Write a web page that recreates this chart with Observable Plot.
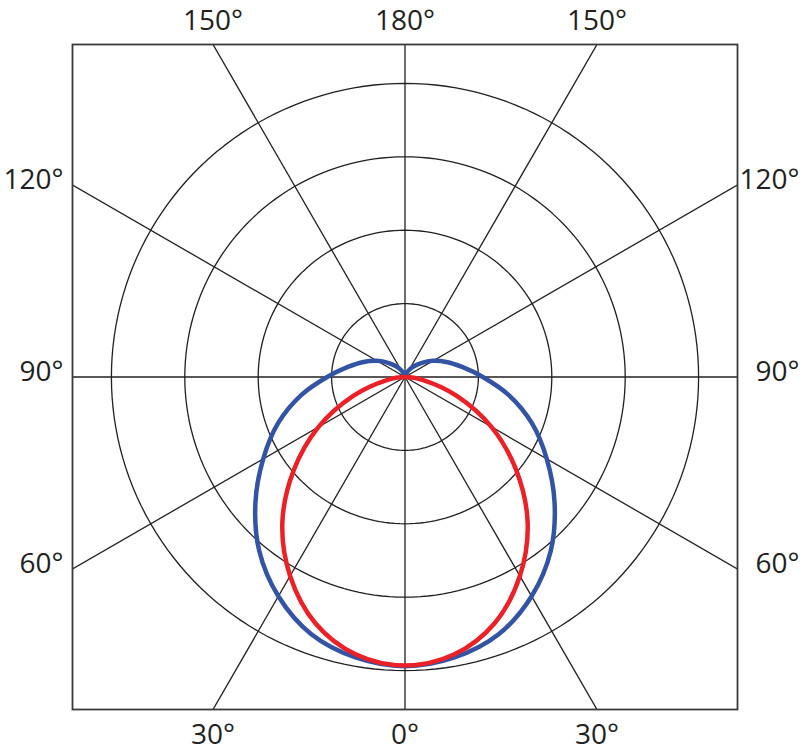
<!DOCTYPE html>
<html>
<head>
<meta charset="utf-8">
<script src="https://cdn.jsdelivr.net/npm/d3@7"></script>
<script src="https://cdn.jsdelivr.net/npm/@observablehq/plot@0.6"></script>
<style>
  body { margin: 0; background: #fff; }
  #chart svg { display: block; }
</style>
</head>
<body>
<div id="chart"></div>
<script>
// Polar angles (degrees from the downward 0° axis), sampled every 10°
const angles = [0, 10, 20, 30, 40, 50, 60, 70, 80, 90, 100, 110, 120, 130, 140, 150, 160, 170, 180];
// Blue distribution (ring units: one ring = 100)
const blueValues = [394, 388, 373, 345, 309, 266, 223, 184, 144, 106, 79, 60, 44, 30, 19, 11, 5, 1, 0];
// Red distribution, 0°..90°
const redValues = [393, 384, 357, 313, 260, 198, 136, 75, 26, 0];
// Grid
const rings = [100, 200, 300, 400];
const spokeAngles = [0, 30, 60, 90, 120, 150, 180, 210, 240, 270, 300, 330];
const labelAngles = [0, 30, 60, 90, 120, 150, 180];

const R = 453; // half-extent of the square frame in ring units
const rad = d => d * Math.PI / 180;
const toXY = (a, v) => ({ x: v * Math.sin(rad(a)), y: -v * Math.cos(rad(a)) });

function loop(values, name) {
  const n = values.length;
  const pts = [];
  for (let i = n - 2; i >= 1; --i) pts.push({ series: name, ...toXY(-angles[i], values[i]) });
  for (let i = 0; i < n; ++i) pts.push({ series: name, ...toXY(angles[i], values[i]) });
  return pts;
}
const blueLoop = loop(blueValues, "blue");
const redLoop = loop(redValues, "red");

const ringPts = rings.flatMap(r => d3.range(0, 361, 2).map(a => ({ ring: r, ...toXY(a, r) })));
const spokes = spokeAngles.map(a => ({ a, x2: 2 * R * Math.sin(rad(a)), y2: -2 * R * Math.cos(rad(a)) }));

// labels at spoke/frame intersections
const labels = [];
for (const a of labelAngles) {
  const sides = (a === 0 || a === 180) ? [1] : [-1, 1];
  for (const s of sides) {
    const sn = Math.sin(rad(a)), cs = Math.cos(rad(a));
    const t = R / Math.max(Math.abs(sn), Math.abs(cs));
    labels.push({ text: a + "°", x: s * t * sn, y: -t * cs, side: Math.abs(sn) > Math.abs(cs) + 1e-9 ? (s < 0 ? "left" : "right") : (cs > 0 ? "bottom" : "top") });
  }
}
const font = "'Open Sans', 'Noto Sans', sans-serif";
const txt = {fontSize: 28, fill: "#231f20", fontFamily: font};

const chart = Plot.plot({
  width: 800,
  height: 755,
  marginLeft: 72,
  marginRight: 63,
  marginTop: 44,
  marginBottom: 46,
  x: { domain: [-R, R], axis: null },
  y: { domain: [-R, R], axis: null },
  marks: [
    Plot.line(ringPts, { x: "x", y: "y", z: "ring", stroke: "#231f20", strokeWidth: 1.3 }),
    Plot.link(spokes, { x1: 0, y1: 0, x2: "x2", y2: "y2", stroke: "#231f20", strokeWidth: 1.3, clip: true }),
    Plot.line(blueLoop, { x: "x", y: "y", stroke: "#3353a4", strokeWidth: 4.5, curve: "catmull-rom-closed" }),
    Plot.line(redLoop, { x: "x", y: "y", stroke: "#ec2027", strokeWidth: 4.5, curve: "catmull-rom-closed" }),
    Plot.frame({ stroke: "#3a3a3a", strokeWidth: 1.8 }),
    Plot.text(labels.filter(d => d.side === "top"), { x: "x", y: "y", text: "text", dy: -23, ...txt }),
    Plot.text(labels.filter(d => d.side === "bottom"), { x: "x", y: "y", text: "text", dy: 26, ...txt }),
    Plot.text(labels.filter(d => d.side === "left"), { x: "x", y: "y", text: "text", dx: -9, dy: -5, textAnchor: "end", ...txt }),
    Plot.text(labels.filter(d => d.side === "right"), { x: "x", y: "y", text: "text", dx: 62, dy: -5, textAnchor: "end", ...txt })
  ]
});
document.getElementById("chart").appendChild(chart);
</script>
</body>
</html>
